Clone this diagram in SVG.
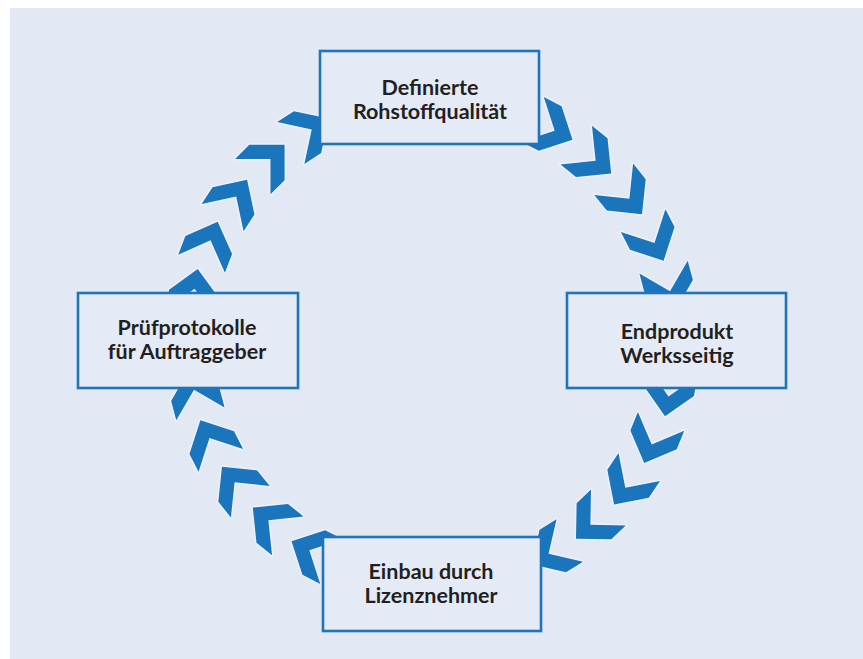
<svg xmlns="http://www.w3.org/2000/svg" width="863" height="659" viewBox="0 0 863 659">
<defs>
<style>
.box{fill:#e4ebf6;stroke:#1f74ba;stroke-width:2.6}
.lbl{font-family:Lato,"Open Sans",sans-serif;font-weight:700;font-size:21.5px;fill:#231f20;text-anchor:middle}
.chev{fill:#1a75bd;stroke:#edf2fa;stroke-width:3;stroke-linejoin:round;paint-order:stroke}
</style>
<polygon id="chv" class="chev" points="0,0 -25,-25 -45,-25 -20,0 -45,25 -25,25"/>
</defs>
<rect x="0" y="0" width="863" height="659" fill="#ffffff"/>
<rect x="10" y="8" width="853" height="651" fill="#e2e9f5"/>
<g id="connectors">
<use href="#chv" transform="translate(572.5,139.8) rotate(27)"/>
<use href="#chv" transform="translate(611.2,173.4) rotate(39)"/>
<use href="#chv" transform="translate(642.0,214.3) rotate(51)"/>
<use href="#chv" transform="translate(663.6,260.7) rotate(63)"/>
<use href="#chv" transform="translate(675.2,310.6) rotate(75)"/>
<use href="#chv" transform="translate(665.0,416.2) rotate(100)"/>
<use href="#chv" transform="translate(644.2,463.0) rotate(112)"/>
<use href="#chv" transform="translate(614.1,504.4) rotate(124)"/>
<use href="#chv" transform="translate(576.0,538.7) rotate(136)"/>
<use href="#chv" transform="translate(531.6,564.3) rotate(148)"/>
<use href="#chv" transform="translate(291.5,541.2) rotate(207)"/>
<use href="#chv" transform="translate(252.8,507.6) rotate(219)"/>
<use href="#chv" transform="translate(222.0,466.7) rotate(231)"/>
<use href="#chv" transform="translate(200.4,420.3) rotate(243)"/>
<use href="#chv" transform="translate(188.8,370.4) rotate(255)"/>
<use href="#chv" transform="translate(197.7,268.9) rotate(279)"/>
<use href="#chv" transform="translate(217.7,221.7) rotate(291)"/>
<use href="#chv" transform="translate(247.1,179.8) rotate(303)"/>
<use href="#chv" transform="translate(284.6,144.8) rotate(315)"/>
<use href="#chv" transform="translate(328.5,118.5) rotate(327)"/>
</g>
<g id="node-top">
<rect class="box" x="320" y="51" width="219" height="93"/>
<text class="lbl" x="430" y="95">Definierte</text>
<text class="lbl" x="430" y="119">Rohstoffqualität</text>
</g>
<g id="node-right">
<rect class="box" x="567" y="293" width="219" height="95"/>
<text class="lbl" x="677" y="339">Endprodukt</text>
<text class="lbl" x="677" y="363">Werksseitig</text>
</g>
<g id="node-bottom">
<rect class="box" x="323" y="537" width="218" height="94"/>
<text class="lbl" x="431" y="579">Einbau durch</text>
<text class="lbl" x="431" y="603">Lizenznehmer</text>
</g>
<g id="node-left">
<rect class="box" x="78" y="293" width="220" height="95"/>
<text class="lbl" x="187" y="335">Prüfprotokolle</text>
<text class="lbl" x="187" y="359">für Auftraggeber</text>
</g>
</svg>
